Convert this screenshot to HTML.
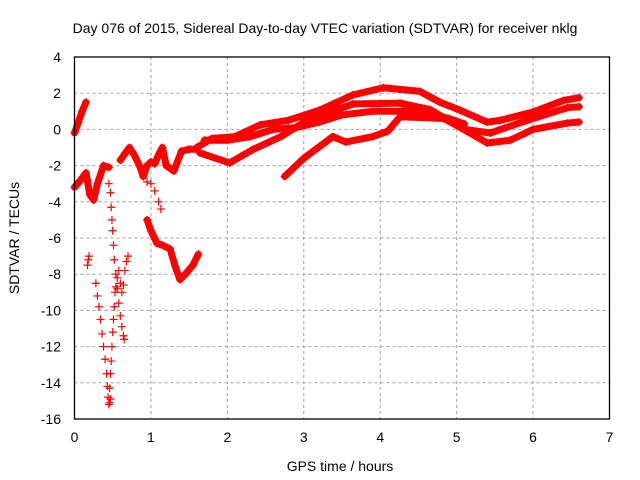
<!DOCTYPE html>
<html><head><meta charset="utf-8"><style>
body{margin:0;background:#fff;}
svg{display:block;font-family:"Liberation Sans",sans-serif;}
</style></head><body>
<svg id="chart" width="640" height="480" xmlns="http://www.w3.org/2000/svg">
<rect width="640" height="480" fill="#fff"/>
<text x="325" y="33" font-size="14" text-anchor="middle">Day 076 of 2015, Sidereal Day-to-day VTEC variation (SDTVAR) for receiver nklg</text>
<text x="340" y="471" font-size="14" text-anchor="middle">GPS time / hours</text>
<text x="0" y="0" font-size="14" text-anchor="middle" transform="translate(19,238) rotate(-90)">SDTVAR / TECUs</text>
<g id="grid"></g>
<g id="ticks"></g>
<g id="series"></g>
<rect x="74.5" y="57" width="535" height="362" fill="none" stroke="#000" stroke-width="1.3"/>
</svg>
<script>
const xTicks=[0,1,2,3,4,5,6,7];
const yTicks=[4,2,0,-2,-4,-6,-8,-10,-12,-14,-16];
// dense tracks
const t1x=[1.6,1.8,2.1,2.43,2.8,3.21,3.64,4.04,4.52,4.78,5.04,5.4,5.57,6.0,6.4,6.6];
const t1y=[-1.0,-0.5,-0.4,0.25,0.5,1.07,1.9,2.3,2.1,1.5,1.07,0.4,0.5,0.96,1.6,1.75];
const t2x=[1.64,2.03,2.34,2.7,3.04,3.64,4.26,4.65,5.04,5.4,5.7,6.0,6.45,6.6];
const t2y=[-1.3,-1.85,-1.1,-0.4,0.5,1.4,1.45,1.1,0.13,-0.75,-0.6,0.0,0.35,0.4];
const t3x=[2.75,3.0,3.38,3.55,3.9,4.1,4.26,4.83,5.1,5.44,5.92,6.45,6.6];
const t3y=[-2.6,-1.6,-0.4,-0.7,-0.4,-0.1,0.7,0.6,0.0,-0.2,0.5,1.2,1.25];
const t4x=[1.7,2.0,2.3,2.6,2.9,3.2,3.5,3.9,4.3,4.6,4.9,5.1];
const t4y=[-0.6,-0.6,-0.4,0.0,0.1,0.4,0.8,1.0,1.0,0.9,0.6,0.3];
const t5x=[0,0.05,0.1,0.15];
const t5y=[-0.2,0.4,1.0,1.5];
const t6x=[0,0.08,0.15,0.2,0.25,0.3,0.38,0.45];
const t6y=[-3.2,-2.8,-2.4,-3.6,-3.9,-3.0,-2.0,-2.1];
const t7x=[0.6,0.65,0.72,0.78,0.85,0.9,0.95,1.0,1.05,1.1,1.15,1.2,1.3,1.4,1.5,1.6];
const t7y=[-1.7,-1.4,-1.0,-1.4,-2.0,-2.6,-2.0,-1.8,-1.9,-1.4,-1.0,-2.0,-2.3,-1.2,-1.1,-1.1];
const t8x=[0.95,1.0,1.08,1.15,1.25,1.32,1.38,1.45,1.55,1.62];
const t8y=[-5.0,-5.6,-6.3,-6.4,-6.6,-7.6,-8.3,-8.0,-7.5,-6.9];
// sparse tracks
const s1x=[0.28,0.3,0.32,0.34,0.36,0.38,0.4,0.42,0.43,0.44,0.45,0.46,0.47];
const s1y=[-8.5,-9.2,-9.8,-10.5,-11.3,-12.0,-12.7,-13.5,-14.2,-14.8,-15.2,-15.1,-14.9];
const s2x=[0.46,0.47,0.48,0.49,0.5,0.51,0.52,0.53,0.54,0.56,0.58,0.6,0.62,0.64,0.66,0.68,0.7];
const s2y=[-14.3,-13.5,-12.8,-12.0,-11.2,-10.5,-9.8,-9.0,-8.7,-8.2,-7.8,-8.5,-9.0,-8.6,-7.8,-7.3,-7.0];
const s3x=[0.45,0.47,0.48,0.49,0.5,0.51,0.52,0.54,0.56,0.58,0.6,0.62,0.64,0.65];
const s3y=[-3.0,-3.5,-4.3,-5.0,-5.6,-6.4,-7.2,-8.0,-8.8,-9.6,-10.3,-10.9,-11.4,-11.6];
const s4x=[0.17,0.18,0.19];
const s4y=[-7.5,-7.2,-7.0];
const s5x=[0.95,1.0,1.05,1.1,1.13];
const s5y=[-2.9,-3.0,-3.4,-4.0,-4.4];
const denseX=[t1x,t2x,t3x,t4x,t5x,t6x,t7x,t8x];
const denseY=[t1y,t2y,t3y,t4y,t5y,t6y,t7y,t8y];
const sparseX=[s1x,s2x,s3x,s4x,s5x];
const sparseY=[s1y,s2y,s3y,s4y,s5y];

const NS='http://www.w3.org/2000/svg';
const X0=74.5,X1=609.5,Y0=419,Y1=57;
function sx(v){return X0+(v-0)/(7-0)*(X1-X0);}
function sy(v){return Y0-(v-(-16))/(4-(-16))*(Y0-Y1);}
function mk(tag,attrs,parent){const e=document.createElementNS(NS,tag);for(const k in attrs)e.setAttribute(k,attrs[k]);parent.appendChild(e);return e;}
const grid=document.getElementById('grid'),ticks=document.getElementById('ticks'),ser=document.getElementById('series');
xTicks.forEach(v=>{
  const x=sx(v);
  if(v>0&&v<7){const g=mk('line',{x1:x,x2:x,y1:Y1,y2:Y0,stroke:'#a0a0a0','stroke-dasharray':'3,3'},grid);
  
  }
  const t=mk('text',{x:x,y:442,'font-size':14,'text-anchor':'middle'},ticks);
  t.textContent=v;
  
  
});
yTicks.forEach(v=>{
  const y=sy(v);
  if(v>-16&&v<4){const g=mk('line',{x1:X0,x2:X1,y1:y,y2:y,stroke:'#a0a0a0','stroke-dasharray':'3,3'},grid);
  
  }
  const t=mk('text',{x:61,y:y+5,'font-size':14,'text-anchor':'end'},ticks);
  t.textContent=v;
  
  
});
function plus(x,y){
  const p=mk('path',{d:`M${x-4},${y}h8M${x},${y-4}v8`,stroke:'#f00','stroke-width':1.2,fill:'none'},ser);
  
  
}
denseX.forEach((xs,i)=>{
  const ys=denseY[i];
  const pts=xs.map((v,j)=>sx(v)+','+sy(ys[j])).join(' ');
  const pl=mk('polyline',{points:pts,fill:'none',stroke:'#f00','stroke-width':7,'stroke-linejoin':'round','stroke-linecap':'round'},ser);
  
  
  xs.forEach((v,j)=>plus(sx(v),sy(ys[j])));
});
sparseX.forEach((xs,i)=>{
  const ys=sparseY[i];
  xs.forEach((v,j)=>plus(sx(v),sy(ys[j])));
});
</script>
</body></html>
